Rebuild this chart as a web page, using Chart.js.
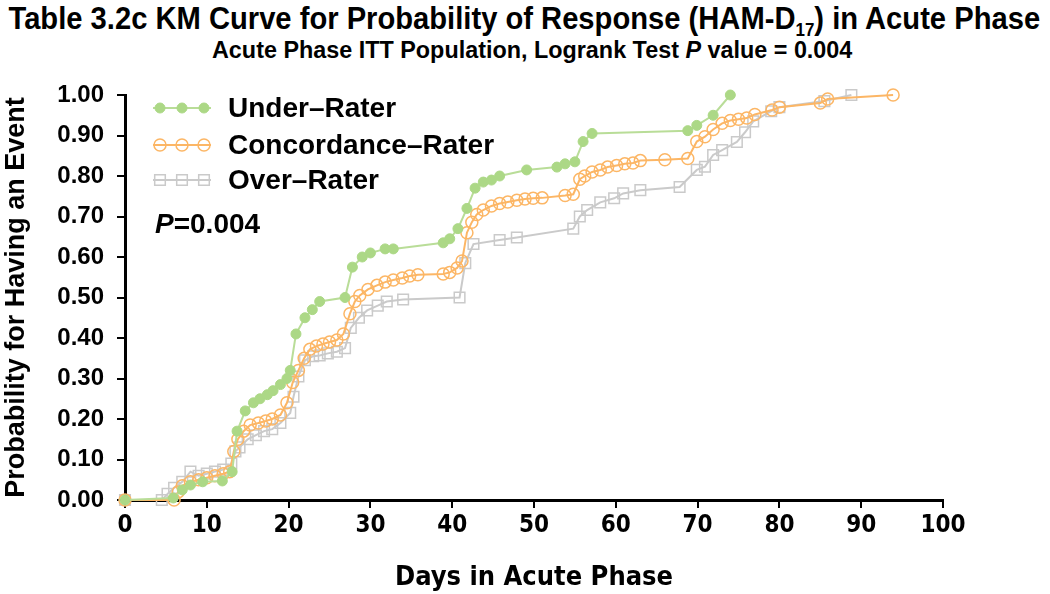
<!DOCTYPE html>
<html lang="en">
<head>
<meta charset="UTF-8">
<title>KM Curve</title>
<script src="https://cdn.jsdelivr.net/npm/chart.js"></script>
<style>
    body { margin: 0; background: #fff; }
    .wrap { position: relative; width: 1050px; height: 594px; }
    .chart-box { position: absolute; left: 0; top: 0; width: 1050px; height: 594px; }
    .title { position: absolute; left: 0; width: 1050px; color: #000; }
    .title span { position: absolute; top: 0; font-family: "Liberation Sans", Arial, sans-serif;
                  font-weight: bold; white-space: nowrap; transform-origin: center; }
    #t1 { top: 1px; font-size: 31px; }
    #t2 { top: 37px; font-size: 23px; }
    #t1 sub { font-size: 18px; vertical-align: -7px; line-height: 0; }
</style>
</head>
<body>
<div class="wrap">
    <div class="title" id="t1"><span data-w="1032" data-c="524">Table 3.2c KM Curve for Probability of Response (HAM-D<sub>17</sub>) in Acute Phase</span></div>
    <div class="title" id="t2"><span data-w="640" data-c="532">Acute Phase ITT Population, Logrank Test <i>P</i> value = 0.004</span></div>
    <div class="chart-box"><canvas id="kmChart"></canvas></div>
</div>

<script>
    // values
    const underDays = [0, 5.9, 7, 8, 9.5, 11.9, 13.1, 13.7, 14.7, 15.7, 16.5, 17.4, 18.1, 19, 19.8, 20.2, 20.9, 22, 22.9, 23.8,
        26.9, 27.8, 29, 30, 31.8, 32.8, 38.9, 39.7, 40.7, 41.8, 42.8, 43.8, 44.8, 45.8, 49.1, 52.8, 53.8, 55, 56, 57.1,
        68.8, 69.9, 71.9, 74];
    const underProb = [0, 0.005, 0.025, 0.037, 0.045, 0.047, 0.07, 0.17, 0.22, 0.24, 0.25, 0.26, 0.27, 0.285, 0.30, 0.32, 0.41, 0.45, 0.47, 0.49,
        0.50, 0.575, 0.60, 0.61, 0.62, 0.62, 0.635, 0.645, 0.67, 0.72, 0.77, 0.785, 0.79, 0.80, 0.815, 0.822, 0.83, 0.835, 0.885, 0.905,
        0.912, 0.925, 0.95, 1.0];

    const concDays = [0, 6, 6.5, 7, 8, 9, 10, 11, 12, 12.8, 13.3, 13.8, 14.5, 15.3, 16.3, 17.2, 18, 19, 19.8, 20.5,
        21.2, 21.9, 22.6, 23.4, 24.2, 25, 25.9, 26.7, 27.5, 28.1, 28.7, 29.7, 30.8, 31.8, 32.8, 33.9, 34.8, 35.8, 38.9, 39.7,
        40.6, 41.2, 41.8, 42.4, 43, 43.8, 44.8, 45.8, 46.8, 47.9, 48.9, 49.9, 51, 53.8, 54.8, 55.6, 56.2, 57.1, 58.1, 59,
        60.1, 61.1, 62.1, 63, 66, 68.8, 69.9, 70.9, 71.9, 73, 74, 75, 76, 77, 79.1, 80, 85, 85.9, 93.9];
    const concProb = [0, 0, 0.02, 0.035, 0.045, 0.05, 0.055, 0.06, 0.065, 0.07, 0.12, 0.15, 0.17, 0.185, 0.19, 0.195, 0.20, 0.21, 0.24, 0.29,
        0.32, 0.35, 0.372, 0.38, 0.385, 0.39, 0.395, 0.41, 0.46, 0.49, 0.505, 0.52, 0.53, 0.538, 0.543, 0.548, 0.553, 0.556, 0.558, 0.562,
        0.573, 0.59, 0.66, 0.686, 0.705, 0.716, 0.726, 0.732, 0.736, 0.74, 0.743, 0.745, 0.746, 0.752, 0.755, 0.792, 0.80, 0.81, 0.815, 0.822,
        0.826, 0.83, 0.832, 0.838, 0.84, 0.843, 0.885, 0.897, 0.915, 0.93, 0.937, 0.94, 0.943, 0.952, 0.963, 0.97, 0.98, 0.99, 1.0];

    const overDays = [0, 4.5, 5.2, 6, 7, 8, 9, 10, 11, 12, 13, 13.5, 14, 15, 16, 17, 18, 19, 20.2, 20.6,
        21.2, 22, 23, 23.8, 24.8, 25.9, 26.9, 27.6, 28.6, 29.6, 30.9, 32, 34, 40.9, 41.6, 42.6, 45.8, 47.9, 54.8, 55.6,
        56.5, 58.1, 59.8, 60.9, 63, 67.8, 69.9, 70.9, 71.9, 73, 74.8, 75.8, 76.8, 79, 80, 85.5, 88.8];
    const overProb = [0, 0, 0.015, 0.03, 0.045, 0.07, 0.06, 0.065, 0.07, 0.075, 0.09, 0.12, 0.13, 0.15, 0.16, 0.17, 0.175, 0.19, 0.215, 0.255,
        0.305, 0.345, 0.355, 0.357, 0.362, 0.366, 0.375, 0.425, 0.45, 0.468, 0.48, 0.49, 0.495, 0.50, 0.585, 0.632, 0.642, 0.648, 0.67, 0.70,
        0.716, 0.735, 0.745, 0.757, 0.765, 0.773, 0.815, 0.823, 0.852, 0.864, 0.884, 0.908, 0.935, 0.96, 0.97, 0.985, 1.0];

    const xTicksStep = 10;
    const yTicksStep = 0.1;

    const narrow = '"DejaVu Sans Condensed", "Liberation Sans", sans-serif';
    const plain = '"Liberation Sans", Arial, sans-serif';

    // squeeze the titles to the width of the condensed originals, centred where they sit in the picture
    document.querySelectorAll('.title span').forEach(s => {
        const w = s.offsetWidth;
        const k = Number(s.dataset.w) / w;
        s.style.left = (Number(s.dataset.c) - w / 2) + 'px';
        s.style.transform = 'scaleX(' + k + ')';
    });

    const toPoints = (xs, ys) => xs.map((x, i) => ({ x: x, y: ys[i] }));

    // legend drawn inside the plot, line with three markers like the original
    const insideLegend = {
        id: 'insideLegend',
        afterDatasetsDraw(chart) {
            const ctx = chart.ctx;
            const rows = [108, 145, 180];
            ctx.save();
            chart.data.datasets.forEach((ds, i) => {
                const y = rows[i];
                ctx.strokeStyle = ds.borderColor;
                ctx.lineWidth = 2;
                ctx.beginPath();
                ctx.moveTo(153, y);
                ctx.lineTo(211, y);
                ctx.stroke();
                [160, 182, 204].forEach(x => {
                    ctx.fillStyle = ds.pointBackgroundColor;
                    ctx.strokeStyle = ds.pointBorderColor;
                    ctx.lineWidth = ds.pointBorderWidth;
                    Chart.helpers.drawPoint(ctx, {
                        pointStyle: ds.pointStyle, radius: ds.pointRadius,
                        rotation: 0, borderWidth: ds.pointBorderWidth
                    }, x, y);
                });
                ctx.fillStyle = '#000';
                ctx.font = 'bold 28px ' + plain;
                ctx.textBaseline = 'middle';
                ctx.textAlign = 'left';
                ctx.fillText(ds.label, 228, y + 1);
            });
            // P value note
            ctx.font = 'italic bold 28px ' + plain;
            ctx.fillText('P', 155, 225);
            const w = ctx.measureText('P').width;
            ctx.font = 'bold 28px ' + plain;
            ctx.fillText('=0.004', 155 + w, 225);
            ctx.restore();
        }
    };

    const ctx = document.getElementById('kmChart').getContext('2d');
    const kmChart = new Chart(ctx, {
        type: 'line',
        data: {
            datasets: [{
                label: 'Under\u2013Rater',
                data: toPoints(underDays, underProb),
                borderColor: '#b9dd98',
                borderWidth: 2,
                pointStyle: 'circle',
                pointRadius: 5,
                pointBackgroundColor: '#acd886',
                pointBorderColor: '#acd886',
                pointBorderWidth: 1,
                tension: 0,
                clip: false
            }, {
                label: 'Concordance\u2013Rater',
                data: toPoints(concDays, concProb),
                borderColor: '#fcb665',
                borderWidth: 2,
                pointStyle: 'circle',
                pointRadius: 6,
                pointBackgroundColor: 'rgba(255,255,255,0)',
                pointBorderColor: '#fcb665',
                pointBorderWidth: 1.5,
                tension: 0,
                clip: false
            }, {
                label: 'Over\u2013Rater',
                data: toPoints(overDays, overProb),
                borderColor: '#cacaca',
                borderWidth: 2,
                pointStyle: 'rect',
                pointRadius: 7.5,
                pointBackgroundColor: 'rgba(255,255,255,0)',
                pointBorderColor: '#cacaca',
                pointBorderWidth: 1.5,
                tension: 0,
                clip: false
            }]
        },
        options: {
            responsive: true,
            maintainAspectRatio: false,
            animation: false,
            layout: { padding: { top: 95, right: 107, left: 0, bottom: 0 } },
            plugins: {
                legend: { display: false },
                tooltip: { enabled: false }
            },
            scales: {
                x: {
                    type: 'linear',
                    min: 0,
                    max: 100,
                    afterFit(scale) { scale.height = 94; },
                    border: { display: true, color: '#000', width: 3 },
                    grid: { drawOnChartArea: false, drawTicks: true, tickLength: 8, color: '#000', lineWidth: 2 },
                    ticks: {
                        stepSize: xTicksStep,
                        color: '#000',
                        padding: 3,
                        maxRotation: 0,
                        font: { family: narrow, size: 24, weight: 'bold' }
                    },
                    title: {
                        display: true,
                        text: 'Days in Acute Phase',
                        color: '#000',
                        padding: { top: 0, bottom: 0 },
                        font: { family: narrow, size: 27, weight: 'bold' }
                    }
                },
                y: {
                    min: 0,
                    max: 1,
                    afterFit(scale) { scale.width = 125; },
                    border: { display: true, color: '#000', width: 3 },
                    grid: { drawOnChartArea: false, drawTicks: true, tickLength: 8, color: '#000', lineWidth: 2 },
                    ticks: {
                        stepSize: yTicksStep,
                        color: '#000',
                        padding: 13,
                        font: { family: plain, size: 24, weight: 'bold' },
                        callback: v => v.toFixed(2)
                    },
                    title: {
                        display: true,
                        text: 'Probability for Having an Event',
                        color: '#000',
                        padding: { top: 0, bottom: 0 },
                        font: { family: plain, size: 27, weight: 'bold' }
                    }
                }
            }
        },
        plugins: [insideLegend]
    });
</script>
</body>
</html>
